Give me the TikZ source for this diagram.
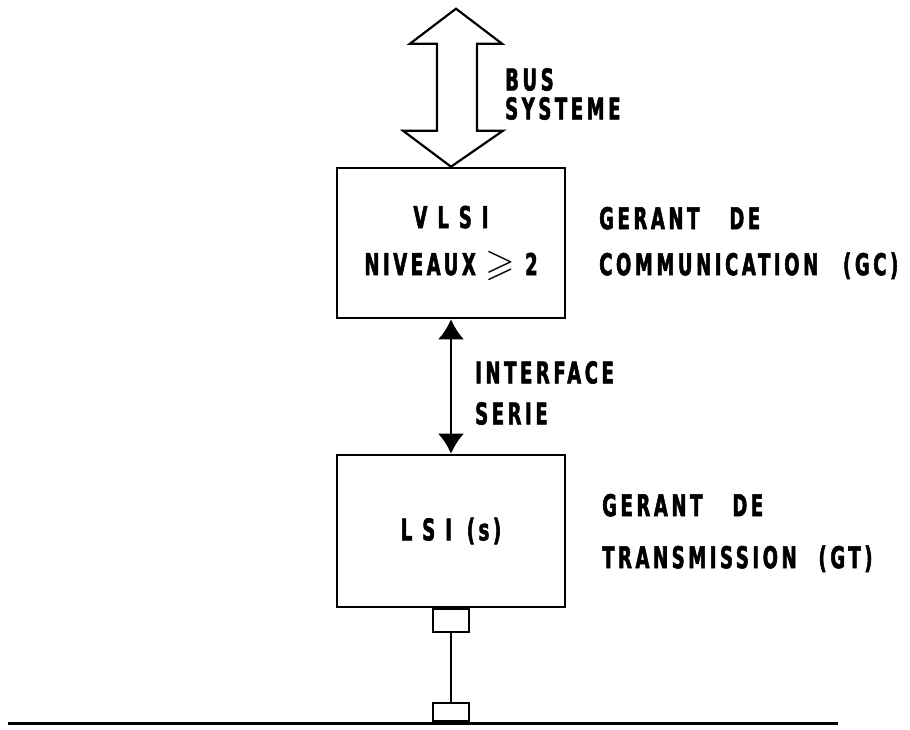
\documentclass[tikz,border=0pt]{standalone}
\usepackage{fontspec}
\usepackage{amssymb}
\usetikzlibrary{positioning}
\usetikzlibrary{arrows.meta}
\newfontfamily\diafont{DejaVu Sans}[FakeStretch=0.6,LetterSpace=12,BoldFeatures={FakeBold=1.8}]
\newcommand{\bigeq}{{\fontsize{38}{38}\selectfont$\geqslant$}}

\begin{document}
\begin{tikzpicture}[x=1pt, y=-1pt,
    every node/.style={font=\diafont\bfseries\fontsize{30}{33}\selectfont},
    chip/.style={draw, line width=2.6pt, minimum width=228pt, minimum height=150pt, inner sep=0pt, align=center},
    tag/.style={anchor=west, align=left, inner sep=0pt},
    port/.style={draw, line width=2pt, minimum width=36pt, minimum height=23pt, inner sep=0pt},
    serial/.style={line width=2.4pt, {Latex[length=20pt,width=26pt]}-{Latex[length=20pt,width=26pt]}},
    bus/.style={line width=2.2pt, line join=miter}]
    \useasboundingbox (0,0) rectangle (910,730);
    % the two chips
    \node[chip] (vlsi) at (451,243) {V\,\,L\,\,S\,\,I\\[14pt]NIVEAUX \bigeq\ 2};
    \node[chip, minimum height=152pt] (lsi) at (451,531) {L\,\,S\,\,I\, (s)};
    % system bus
    \draw[bus] (vlsi.north) -- ++(-48,-36) -- ++(34,0) -- ++(0,-87) -- ++(-27,0)
        -- ++(46,-35) -- ++(46,35) -- ++(-25,0) -- ++(0,87) -- ++(26,0) -- cycle;
    \node[tag, font=\diafont\bfseries\fontsize{30}{29}\selectfont] (busname) at (505,94) {BUS\\SYSTEME};
    % serial link
    \draw[serial] (vlsi.south) -- (lsi.north);
    \node[tag] (iface) at (475,393) {INTERFACE\\[8pt]SERIE};
    % names on the right
    \node[tag] (gcname) at (599,243) {GERANT\quad DE\\[13pt]COMMUNICATION\hspace{15pt} (GC)};
    \node[tag] (gtname) at (602,533) {GERANT\quad DE\\[19pt]TRANSMISSION\hspace{12pt} (GT)};
    % line tap
    \node[port, below=0pt of lsi] (gtport) {};
    \node[port, anchor=south, minimum height=18pt] (tap) at (lsi.south |- 0,722) {};
    \draw[line width=2pt] (gtport) -- (tap);
    \coordinate (lineW) at (8,723);
    \coordinate (lineE) at (838,723);
    \draw[line width=3pt] (lineW) -- (lineE);
\end{tikzpicture}
\end{document}
